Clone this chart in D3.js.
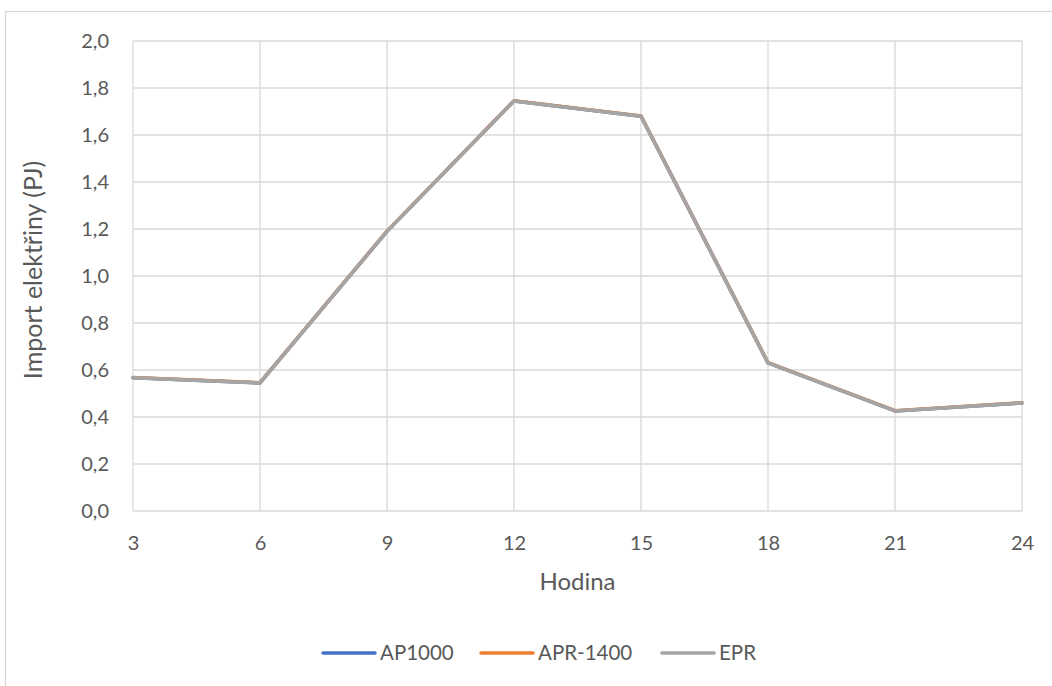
<!DOCTYPE html>
<html>
<head>
<meta charset="utf-8">
<script src="https://cdn.jsdelivr.net/npm/d3@7"></script>
<style>
  html, body { margin: 0; padding: 0; background: #fff; }
  svg { display: block; }
  text { font-family: Lato, "Open Sans", sans-serif; fill: #595959; }
</style>
</head>
<body>
<svg id="chart" width="1052" height="686"></svg>
<script>
// Hourly electricity import (PJ)
const hours = [3, 6, 9, 12, 15, 18, 21, 24];
const ap1000 = [0.567, 0.545, 1.190, 1.745, 1.680, 0.630, 0.426, 0.460];
const apr1400 = [0.568, 0.546, 1.191, 1.746, 1.681, 0.631, 0.427, 0.461];
const epr = [0.567, 0.545, 1.190, 1.745, 1.680, 0.630, 0.426, 0.460];
const yTicks = [0, 0.2, 0.4, 0.6, 0.8, 1.0, 1.2, 1.4, 1.6, 1.8, 2.0];

const series = [
  { name: "AP1000", values: ap1000, color: "#4472c4" },
  { name: "APR-1400", values: apr1400, color: "#ed7d31" },
  { name: "EPR", values: epr, color: "#a5a5a5" }
];

const svg = d3.select("#chart");

// chart frame
svg.append("rect")
  .attr("x", 5.5).attr("y", 11.5)
  .attr("width", 1060).attr("height", 700)
  .attr("fill", "#fff").attr("stroke", "#d9d9d9").attr("stroke-width", 1.3);

const x = d3.scaleLinear().domain([3, 24]).range([133, 1022]);
const y = d3.scaleLinear().domain([0, 2]).range([511, 41]);

const fmt = d => d.toFixed(1).replace(".", ",");

// horizontal gridlines
svg.append("g")
  .selectAll("line").data(yTicks).join("line")
  .attr("x1", x(3)).attr("x2", x(24))
  .attr("y1", d => y(d)).attr("y2", d => y(d))
  .attr("stroke", "#d9d9d9").attr("stroke-width", 1.3);

// vertical gridlines
svg.append("g")
  .selectAll("line").data(hours).join("line")
  .attr("x1", d => x(d)).attr("x2", d => x(d))
  .attr("y1", y(0)).attr("y2", y(2))
  .attr("stroke", "#d9d9d9").attr("stroke-width", 1.3);

// y axis labels
const yAxis = svg.append("g")
  .attr("transform", `translate(${x(3)},0)`)
  .call(d3.axisLeft(y).tickValues(yTicks).tickFormat(fmt).tickSize(0).tickPadding(24));
yAxis.select(".domain").remove();
yAxis.selectAll("text")
  .attr("font-size", 20).attr("fill", "#595959")
  .style("font-family", "Lato, 'Open Sans', sans-serif");

// x axis labels
const xAxis = svg.append("g")
  .attr("transform", `translate(0,${y(0)})`)
  .call(d3.axisBottom(x).tickValues(hours).tickFormat(d3.format("d")).tickSize(0).tickPadding(25));
xAxis.select(".domain").remove();
xAxis.selectAll("text")
  .attr("font-size", 20).attr("fill", "#595959")
  .style("font-family", "Lato, 'Open Sans', sans-serif");

// axis titles
svg.append("text")
  .attr("x", (x(3) + x(24)) / 2).attr("y", 590)
  .attr("text-anchor", "middle").attr("font-size", 24)
  .text("Hodina");

svg.append("text")
  .attr("transform", `translate(42,270) rotate(-90)`)
  .attr("text-anchor", "middle").attr("font-size", 25)
  .text("Import elektřiny (PJ)");

// series lines
const line = d3.line()
  .x((d, i) => x(hours[i]))
  .y(d => y(d));

svg.append("g")
  .selectAll("path").data(series).join("path")
  .attr("d", s => line(s.values))
  .attr("fill", "none")
  .attr("stroke", s => s.color)
  .attr("stroke-width", 3.5)
  .attr("stroke-linejoin", "round")
  .attr("stroke-linecap", "round");

// legend
const legendX = [323, 481, 662];
const legend = svg.append("g")
  .selectAll("g").data(series).join("g")
  .attr("transform", (s, i) => `translate(${legendX[i]},653)`);
legend.append("line")
  .attr("x1", 0).attr("x2", 52)
  .attr("stroke", s => s.color).attr("stroke-width", 3.5)
  .attr("stroke-linecap", "round");
legend.append("text")
  .attr("x", 57).attr("dy", "0.35em")
  .attr("font-size", 20.5)
  .text(s => s.name);
</script>
</body>
</html>
